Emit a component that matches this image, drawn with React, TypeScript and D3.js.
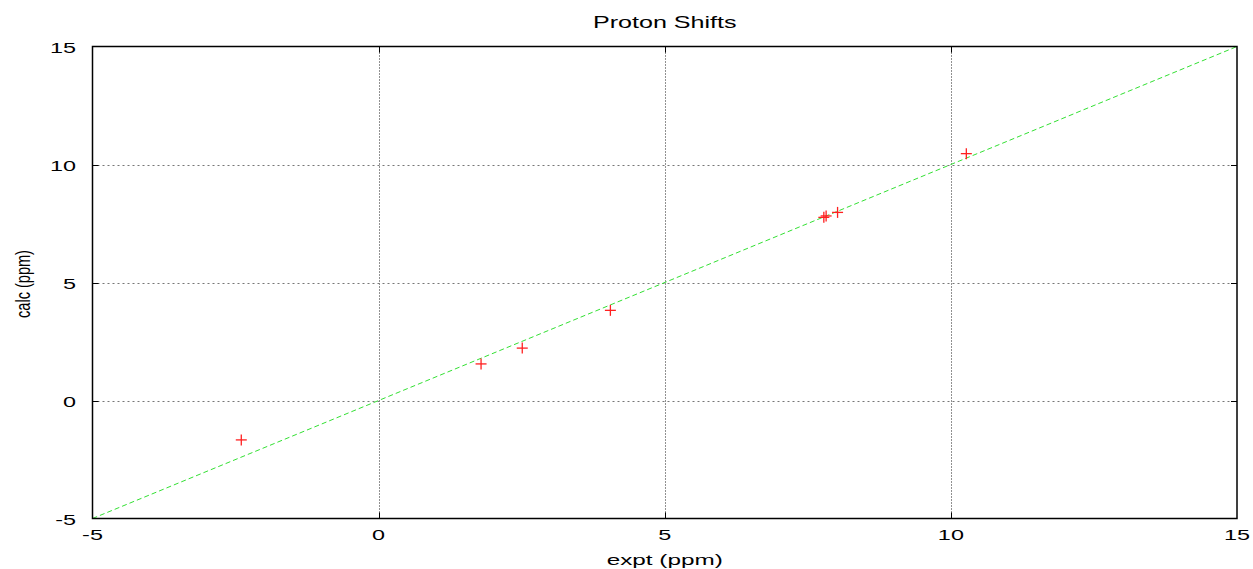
import React, { useEffect, useRef } from "react";
import * as d3 from "d3";

const exptValues = [-2.4, 1.79, 2.51, 4.05, 7.78, 7.82, 8.02, 10.27];
const calcValues = [-1.67, 1.55, 2.22, 3.82, 7.76, 7.82, 7.97, 10.46];
const tickValues = [-5, 0, 5, 10, 15];
const fitLine = [-5, 15];

const W = 1253;
const H = 569;
const margin = { top: 46.5, right: 16, bottom: 50.5, left: 92.5 };

const App = () => {
  const svgRef = useRef(null);

  useEffect(() => {
    const svg = d3.select(svgRef.current);
    svg.selectAll("*").remove();

    const x = d3.scaleLinear().domain([-5, 15]).range([margin.left, W - margin.right]);
    const y = d3.scaleLinear().domain([-5, 15]).range([H - margin.bottom, margin.top]);
    const font = "'Liberation Sans', Arial, sans-serif";

    // the original looks like a small gnuplot png stretched wider, so text gets scaled in x
    const stretchText = (g, tx, ty, str, size, sx, anchor = "middle") =>
      g.append("text")
        .attr("transform", `translate(${tx},${ty}) scale(${sx},1)`)
        .attr("text-anchor", anchor)
        .style("font-family", font)
        .style("font-size", size + "px")
        .attr("fill", "#000")
        .text(str);

    // grid lines (skip the ones that sit on the border)
    const inner = tickValues.slice(1, -1);
    svg.append("g")
      .selectAll("line")
      .data(inner)
      .enter()
      .append("line")
      .attr("x1", d => Math.round(x(d)) + 0.5)
      .attr("x2", d => Math.round(x(d)) + 0.5)
      .attr("y1", margin.top)
      .attr("y2", H - margin.bottom)
      .attr("stroke", "#222")
      .attr("stroke-dasharray", "1,2");
    svg.append("g")
      .selectAll("line")
      .data(inner)
      .enter()
      .append("line")
      .attr("y1", d => Math.round(y(d)) + 0.5)
      .attr("y2", d => Math.round(y(d)) + 0.5)
      .attr("x1", margin.left)
      .attr("x2", W - margin.right)
      .attr("stroke", "#777")
      .attr("stroke-dasharray", "2,3");

    // tick marks on all four sides
    const tk = 6;
    const ticks = svg.append("g").attr("stroke", "#000").attr("stroke-width", 1);
    inner.forEach(d => {
      const px = Math.round(x(d)) + 0.5;
      const py = Math.round(y(d)) + 0.5;
      ticks.append("line").attr("x1", px).attr("x2", px).attr("y1", H - margin.bottom).attr("y2", H - margin.bottom - tk);
      ticks.append("line").attr("x1", px).attr("x2", px).attr("y1", margin.top).attr("y2", margin.top + tk);
      ticks.append("line").attr("y1", py).attr("y2", py).attr("x1", margin.left).attr("x2", margin.left + tk);
      ticks.append("line").attr("y1", py).attr("y2", py).attr("x1", W - margin.right).attr("x2", W - margin.right - tk);
    });

    // y = x reference line
    const line = d3.line<number>().x(d => x(d)).y(d => y(d));
    svg.append("path")
      .attr("d", line(fitLine))
      .attr("fill", "none")
      .attr("stroke", "#33e033")
      .attr("stroke-width", 1)
      .attr("stroke-dasharray", "5,3");

    // data points as "+"
    const s = 5.5;
    const pts = svg.append("g").attr("stroke", "#ff2020").attr("stroke-width", 1.3);
    exptValues.forEach((v, i) => {
      const px = x(v);
      const py = y(calcValues[i]);
      pts.append("line").attr("x1", px - s).attr("x2", px + s).attr("y1", py).attr("y2", py);
      pts.append("line").attr("x1", px).attr("x2", px).attr("y1", py - s).attr("y2", py + s);
    });

    // border
    svg.append("rect")
      .attr("x", margin.left)
      .attr("y", margin.top)
      .attr("width", W - margin.left - margin.right)
      .attr("height", H - margin.top - margin.bottom)
      .attr("fill", "none")
      .attr("stroke", "#000")
      .attr("stroke-width", 1.5);

    // tick labels
    const labels = svg.append("g");
    tickValues.forEach(d => {
      stretchText(labels, x(d), H - margin.bottom + 21.5, d, 15, 1.56);
      stretchText(labels, margin.left - 16.5, y(d) + 6, d, 15, 1.56, "end");
    });

    // titles
    const midX = (margin.left + W - margin.right) / 2;
    stretchText(svg, midX, 27.7, "Proton Shifts", 16, 1.57);
    stretchText(svg, midX, 565, "expt (ppm)", 15, 1.62);
    svg.append("text")
      .attr("transform", `translate(23,284) scale(1.4,1.04) rotate(-90)`)
      .attr("text-anchor", "middle")
      .attr("dy", "0.36em")
      .style("font-family", font)
      .style("font-size", "14px")
      .text("calc (ppm)");
  }, []);

  return <svg ref={svgRef} width={W} height={H} style={{ position: "absolute", left: 0, top: 0, background: "#fff" }}></svg>;
};

export default App;
